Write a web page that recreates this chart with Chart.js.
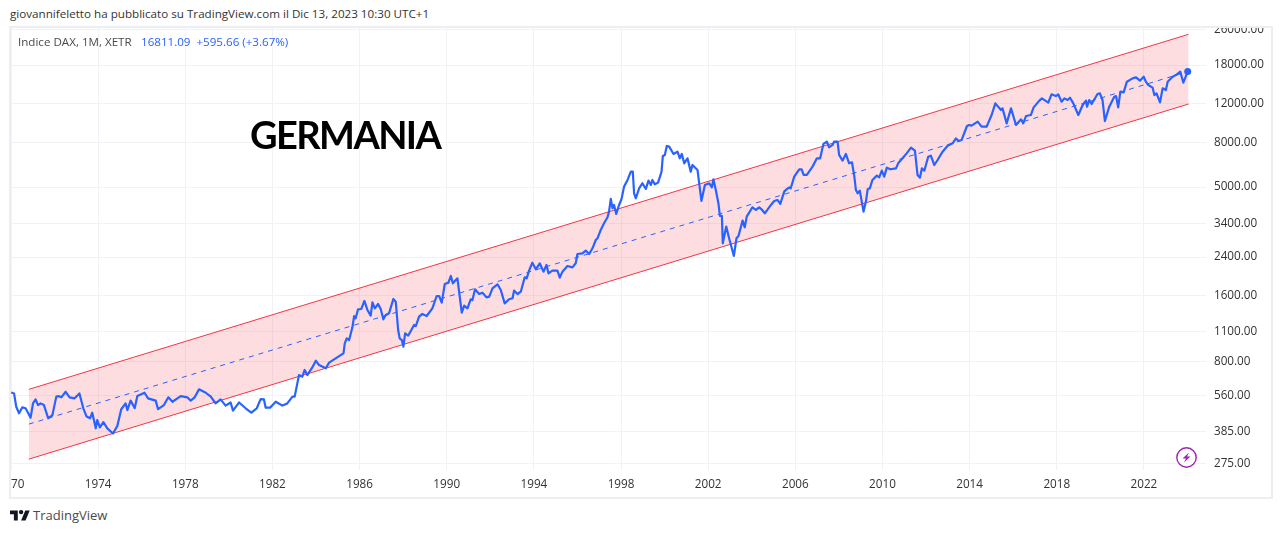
<!DOCTYPE html>
<html>
<head>
<meta charset="utf-8">
<title>GERMANIA</title>
<script src="https://cdn.jsdelivr.net/npm/chart.js"></script>
<style>
  html, body { margin: 0; padding: 0; background: #fff; width: 1281px; height: 533px; overflow: hidden; }
  body { position: relative; font-family: "Open Sans", sans-serif; color: #333; }
  .abs { position: absolute; white-space: pre; line-height: 16px; }
  #frame { position: absolute; left: 9px; top: 26px; width: 1260px; height: 469px; border: 2px solid #eceef4; border-left-width: 2px; }
  #frame canvas { display: block; }
  #byline { left: 10px; top: 6px; font-size: 11.65px; color: #333; }
  #legend { left: 18px; top: 34px; font-size: 11.6px; color: #4a4a4a; }
  #legend span { position: absolute; left: 123px; top: 0; color: #2962ff; }
  #big { left: 250px; top: 110px; font: bold 38px/48px Lato, sans-serif; letter-spacing: -1.6px; color: #000; }
  #brand { left: 33px; top: 507px; font-size: 13px; color: #4a4a4a; }
  #logo { position: absolute; left: 10px; top: 508px; }
  #bolt { position: absolute; left: 1175px; top: 446px; }
</style>
</head>
<body>
<div id="frame"><canvas id="daxChart" width="1260" height="469"></canvas></div>
<div class="abs" id="byline">giovannifeletto ha pubblicato su TradingView.com il Dic 13, 2023 10:30 UTC+1</div>
<div class="abs" id="legend">Indice DAX, 1M, XETR<span>16811.09  +595.66 (+3.67%)</span></div>
<div class="abs" id="big">GERMANIA</div>
<svg id="logo" width="20" height="16" viewBox="0 0 36 28"><path fill="#131722" d="M14 22H7V11H0V4h14v18zM28 22h-8l7.5-18h8L28 22z"/><circle fill="#131722" cx="20" cy="7" r="4"/></svg>
<div class="abs" id="brand">TradingView</div>
<svg id="bolt" width="23" height="23" viewBox="0 0 23 23"><circle cx="11.5" cy="11.5" r="9.7" fill="#fff" stroke="#9c27b0" stroke-width="1.4"/><path fill="#9c27b0" d="M14 6.5 7.5 12.5h3.4L9 16.5l6.5-6h-3.4z"/></svg>
<script>
const years = [
  1970.01,1970.14,1970.24,1970.37,1970.52,1970.67,1970.90,1971.01,1971.13,1971.24,1971.36,1971.51,1971.71,1971.90,
  1972.08,1972.20,1972.31,1972.51,1972.69,1972.92,1973.14,1973.32,1973.47,1973.63,1973.73,1973.89,1973.96,
  1974.08,1974.24,1974.42,1974.68,1974.88,1975.06,1975.26,1975.34,1975.49,1975.68,1975.80,
  1976.13,1976.29,1976.64,1976.75,1977.02,1977.22,1977.41,1977.79,1978.09,1978.25,1978.43,1978.63,1978.94,
  1979.17,1979.39,1979.62,1979.85,1980.08,1980.19,1980.47,1980.77,1981.03,1981.28,1981.46,1981.61,1981.69,1981.89,
  1982.15,1982.46,1982.68,1982.92,1983.02,1983.22,1983.37,1983.48,1983.60,1983.83,1983.99,1984.14,
  1984.45,1984.60,1984.90,1985.26,1985.32,1985.41,1985.52,1985.67,1985.75,1985.82,1985.93,1986.08,1986.22,1986.36,
  1986.51,1986.59,1986.70,1986.85,1986.97,1987.09,1987.20,1987.35,1987.55,1987.66,1987.77,1987.84,1987.94,
  1988.01,1988.09,1988.23,1988.50,1988.58,1988.73,1988.88,1989.08,1989.34,1989.54,1989.65,1989.77,1989.91,
  1990.08,1990.19,1990.28,1990.49,1990.69,1990.80,1990.95,1991.10,1991.18,1991.30,1991.49,1991.64,1991.82,1991.95,
  1992.10,1992.33,1992.48,1992.66,1992.86,1993.02,1993.09,1993.25,1993.40,1993.58,1993.67,1993.78,1993.93,
  1994.09,1994.27,1994.44,1994.58,1994.67,1994.85,1995.08,1995.19,1995.31,1995.54,1995.77,1995.92,
  1996.00,1996.23,1996.38,1996.54,1996.69,1996.84,1996.92,1997.07,1997.22,1997.38,1997.45,1997.53,1997.61,1997.68,1997.78,1997.91,
  1998.02,1998.14,1998.30,1998.45,1998.54,1998.60,1998.68,1998.83,1998.98,1999.14,1999.26,1999.37,1999.44,1999.55,1999.70,1999.86,1999.92,
  2000.01,2000.10,2000.21,2000.41,2000.59,2000.70,2000.79,2000.90,2001.05,2001.20,2001.28,2001.51,2001.69,2001.85,
  2002.05,2002.17,2002.24,2002.35,2002.47,2002.54,2002.63,2002.67,2002.83,2002.96,2003.18,2003.30,2003.39,2003.58,2003.68,2003.77,
  2004.03,2004.19,2004.34,2004.45,2004.60,2004.88,2005.03,2005.18,2005.31,2005.49,2005.60,2005.72,2005.79,2005.95,
  2006.18,2006.29,2006.38,2006.53,2006.79,2006.99,2007.14,2007.29,2007.45,2007.55,2007.71,2007.78,2007.94,
  2008.01,2008.17,2008.32,2008.47,2008.60,2008.70,2008.78,2008.86,2008.96,2009.13,2009.24,2009.32,2009.42,2009.54,2009.74,2009.85,2009.97,
  2010.08,2010.20,2010.36,2010.62,2010.72,2010.92,2011.11,2011.31,2011.49,2011.61,2011.72,2011.81,2011.92,
  2012.10,2012.22,2012.38,2012.53,2012.76,2012.99,2013.22,2013.37,2013.49,2013.63,2013.88,2013.98,
  2014.09,2014.37,2014.55,2014.78,2014.90,2015.01,2015.18,2015.44,2015.51,2015.70,2015.90,
  2016.13,2016.36,2016.46,2016.59,2016.81,2016.94,2017.20,2017.32,2017.61,2017.76,2017.96,
  2018.07,2018.22,2018.35,2018.50,2018.61,2018.76,2018.99,2019.19,2019.34,2019.39,2019.49,2019.60,2019.87,2019.98,
  2020.10,2020.21,2020.41,2020.64,2020.72,2020.82,2020.92,2021.07,2021.22,2021.48,2021.64,2021.82,2021.99,
  2022.09,2022.20,2022.40,2022.48,2022.58,2022.74,2022.86,2023.01,2023.09,2023.32,2023.47,2023.67,2023.81,2024.01
];
const daxClose = [
  580,574,499,466,496,491,445,517,539,508,517,508,442,457,
  555,558,551,584,551,545,574,491,450,442,469,398,434,
  402,425,398,377,408,486,517,482,532,492,558,
  578,545,532,487,508,551,526,558,551,532,551,599,578,
  555,517,539,505,522,479,522,491,469,491,541,539,494,494,
  526,505,517,555,555,696,684,734,696,754,809,773,
  747,793,829,874,971,1023,1005,1148,1293,1262,1387,1392,1514,1378,
  1298,1493,1402,1467,1392,1249,1307,1330,1546,1503,1116,1023,1005,
  937,1078,1052,1177,1164,1284,1321,1293,1402,1595,1595,1488,1809,
  1835,1968,1822,1920,1339,1442,1402,1541,1529,1711,1629,1652,1573,1584,
  1729,1803,1699,1477,1541,1557,1687,1629,1669,1941,1920,2081,2263,
  2110,2248,2059,2209,2023,2081,2081,1934,2059,2185,2155,2248,
  2479,2496,2567,2479,2631,2871,2923,3190,3420,3643,3866,4416,4004,4146,3773,4146,
  4400,5026,5390,5882,5882,4686,4447,4938,5205,4904,5352,5114,5390,5151,5241,5882,6933,
  7007,7700,7647,7081,7255,6765,7081,6419,6765,5882,6308,5986,4324,5114,
  5205,4990,5428,4852,4220,3694,3694,2773,3304,2923,2428,2923,2995,3518,3280,3669,
  4046,3934,4046,3962,3799,4146,4324,4370,4190,4769,4887,4990,4938,5581,
  6028,6028,5680,5680,6199,6765,6765,7864,8058,7593,7782,8058,8058,
  7007,6602,7081,6419,6488,5680,4852,4686,4819,3866,4294,4887,4938,5390,5640,5542,5946,
  5581,6134,6028,6088,6416,6762,7124,7562,7327,5676,5519,6088,5940,
  6881,6951,6304,6644,7251,7722,7913,8340,8108,8194,9492,9592,
  9526,9934,9425,9425,10038,10653,12040,11228,11425,9761,11425,
  9592,10180,9761,10541,10653,11544,12385,12688,12125,13233,13002,
  13233,12252,12688,12468,12778,12040,10653,11831,12385,11626,12468,11956,13278,13371,
  12468,10002,11626,12912,13002,11544,13607,13514,15113,15650,15817,15272,15929,
  15113,14595,14191,13140,13371,12167,14093,13848,15113,15929,16210,16785,14956,16811
];

// channel drawn on the chart: start and end of each line
const channelYears = [1970.82, 2024.05];
const channelUpper = [599, 24847];
const channelMiddle = [416, 16850];
const channelLower = [288, 11955];

const xTicks = [1970, 1974, 1978, 1982, 1986, 1990, 1994, 1998, 2002, 2006, 2010, 2014, 2018, 2022];
const yTicks = [275, 385, 560, 800, 1100, 1600, 2400, 3400, 5000, 8000, 12000, 18000, 26000];

const toPoints = (xs, ys) => xs.map((x, i) => ({ x: x, y: ys[i] }));

const gridColor = '#f0f2f6';
const labelColor = '#333';
Chart.defaults.font.family = '"Open Sans", sans-serif';
Chart.defaults.font.size = 11.7;

const ctx = document.getElementById('daxChart');
new Chart(ctx, {
  type: 'line',
  data: {
    datasets: [
      {
        label: 'Indice DAX',
        data: toPoints(years, daxClose),
        borderColor: '#2962ff',
        backgroundColor: '#2962ff',
        borderWidth: 2.2,
        borderJoinStyle: 'round',
        tension: 0,
        pointRadius: (c) => (c.dataIndex === years.length - 1 ? 3.5 : 0),
        pointBorderWidth: 0
      },
      {
        label: 'Middle',
        data: toPoints(channelYears, channelMiddle),
        borderColor: '#2962ff',
        borderWidth: 1,
        borderDash: [5, 5],
        pointRadius: 0
      },
      {
        label: 'Upper',
        data: toPoints(channelYears, channelUpper),
        borderColor: '#f23645',
        borderWidth: 1,
        pointRadius: 0,
        fill: '+1',
        backgroundColor: 'rgba(242, 54, 69, 0.17)'
      },
      {
        label: 'Lower',
        data: toPoints(channelYears, channelLower),
        borderColor: '#f23645',
        borderWidth: 1,
        pointRadius: 0
      }
    ]
  },
  options: {
    responsive: false,
    animation: false,
    devicePixelRatio: 1,
    layout: { padding: 0, autoPadding: false },
    plugins: { legend: { display: false }, tooltip: { enabled: false } },
    scales: {
      x: {
        type: 'linear',
        bounds: 'data',
        min: 1970,
        max: 2024.85,
        grid: { color: gridColor, drawTicks: false },
        border: { display: false },
        ticks: {
          color: labelColor,
          padding: 8,
          maxRotation: 0,
          autoSkip: false,
          includeBounds: false,
          callback: (v) => String(v)
        },
        afterBuildTicks: (scale) => { scale.ticks = xTicks.map((v) => ({ value: v })); },
        afterFit: (scale) => { scale.height = 27; scale.paddingLeft = 0; scale.paddingRight = 0; }
      },
      y: {
        type: 'logarithmic',
        position: 'right',
        bounds: 'data',
        min: 257,
        max: 26545,
        grid: { color: gridColor, drawTicks: false },
        border: { display: false },
        ticks: {
          color: labelColor,
          padding: 8,
          autoSkip: false,
          callback: (v) => Number(v).toFixed(2)
        },
        afterBuildTicks: (scale) => { scale.ticks = yTicks.map((v) => ({ value: v })); },
        afterFit: (scale) => { scale.width = 65; scale.paddingTop = 0; scale.paddingBottom = 0; }
      }
    }
  }
});
</script>
</body>
</html>
